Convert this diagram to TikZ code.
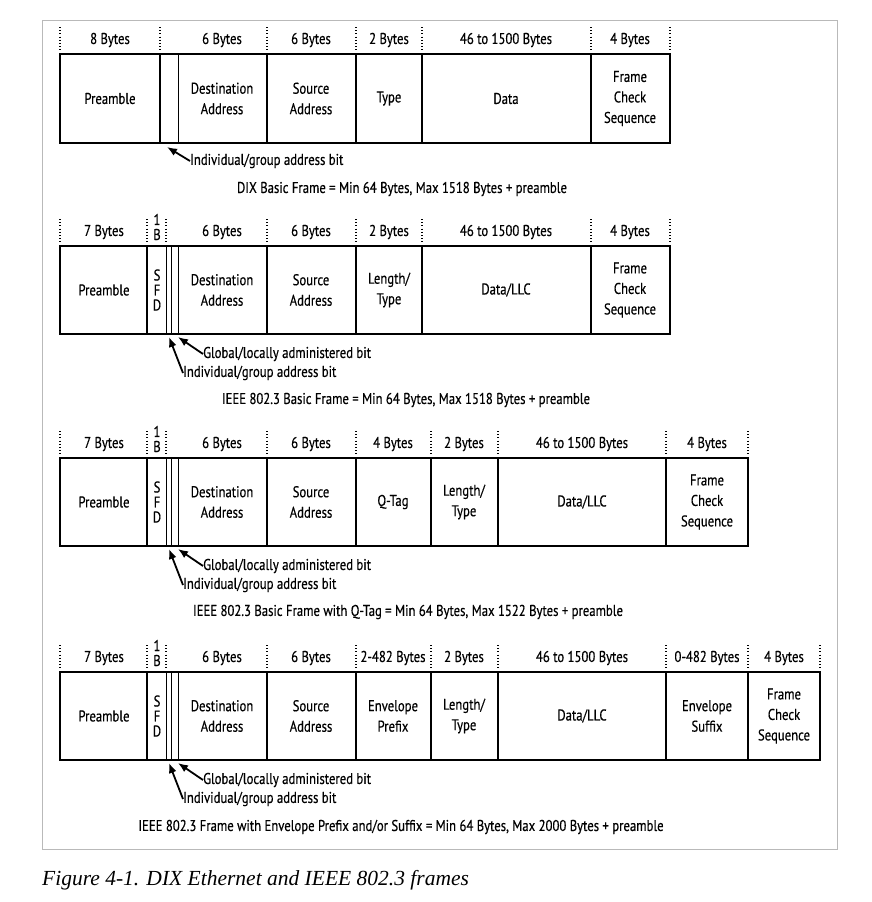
\documentclass[tikz,border=0pt]{standalone}
\usepackage{fontspec}
\setmainfont{Liberation Serif}
\newfontfamily\cond[FakeStretch=0.815, FakeBold=0.4]{PT Sans}
\usetikzlibrary{arrows.meta}
\tikzset{
	field/.style={line width=1.6pt},
	bitline/.style={line width=0.6pt},
	sizesep/.style={line width=1.1pt, dash pattern=on 1pt off 2.2pt},
	lbl/.style={font=\cond\fontsize{15.6}{20.5}\selectfont, align=center, inner sep=0pt},
	stack/.style={lbl, font=\cond\fontsize{15.6}{15}\selectfont},
	bitnote/.style={lbl, anchor=west},
	bitarrow/.style={-{Latex[length=10pt,width=8pt]}, line width=1.8pt}
}

\begin{document}
\begin{tikzpicture}[x=1pt, y=-1pt]
        \useasboundingbox (0,0) rectangle (871,902);
        \draw [gray!55, line width=0.8pt] (42,20) rectangle (837,849);

        % DIX frame
        \draw [field] (60,54) rectangle (670,143);
        \foreach \x in {160,267,356,422,591} \draw [field] (\x,54) -- (\x,143);
        \draw [bitline] (178,54) -- (178,143);
        \foreach \x in {60,160,267,356,422,591,670} \draw [sizesep] (\x,27) -- (\x,52);
        \foreach \x/\t [count=\i] in {110/8 Bytes, 222/6 Bytes, 311/6 Bytes, 389/2 Bytes, 506/46 to 1500 Bytes, 630/4 Bytes}
            \node [lbl] (dixsz\i) at (\x,40) {\t};
        \foreach \x/\t [count=\i] in {110/Preamble, 222/{Destination\\Address}, 311/{Source\\Address}, 389/Type, 506/Data, 630/{Frame\\Check\\Sequence}}
            \node [lbl] (dixf\i) at (\x,98.5) {\t};
        \node [bitnote] (dixig) at (190,161) {Individual/group address bit};
        \coordinate (dixigbit) at (167,147);
        \draw [bitarrow] (dixig.west) -- (dixigbit);
        \node [lbl] (dixcap) at (402,189) {DIX Basic Frame = Min 64 Bytes, Max 1518 Bytes + preamble};

        % IEEE 802.3 basic frame
        \draw [field] (60,246) rectangle (670,334);
        \foreach \x in {147,267,356,422,591} \draw [field] (\x,246) -- (\x,334);
        \foreach \x in {166,171,178} \draw [bitline] (\x,246) -- (\x,334);
        \foreach \x in {60,147,166,267,356,422,591,670} \draw [sizesep] (\x,219) -- (\x,244);
        \foreach \x/\t [count=\i] in {104/7 Bytes, 222/6 Bytes, 311/6 Bytes, 389/2 Bytes, 506/46 to 1500 Bytes, 630/4 Bytes}
            \node [lbl] (basz\i) at (\x,232) {\t};
        \node [stack] (baone) at (157,227) {1\\B};
        \foreach \x/\t [count=\i] in {104/Preamble, 222/{Destination\\Address}, 311/{Source\\Address}, 389/{Length/\\Type}, 506/{Data/LLC}, 630/{Frame\\Check\\Sequence}}
            \node [lbl] (baf\i) at (\x,290) {\t};
        \node [stack] (basfd) at (157,290) {S\\F\\D};
        \node [bitnote] (bagl) at (203,354) {Global/locally administered bit};
        \node [bitnote] (baig) at (183,373) {Individual/group address bit};
        \coordinate (baglbit) at (178,337);
        \coordinate (baigbit) at (169,337);
        \draw [bitarrow] (bagl.west) -- (baglbit);
        \draw [bitarrow] (baig.west) -- (baigbit);
        \node [lbl] (bacap) at (406,400) {IEEE 802.3 Basic Frame = Min 64 Bytes, Max 1518 Bytes + preamble};

        % IEEE 802.3 frame with Q-Tag
        \draw [field] (60,458) rectangle (748,546);
        \foreach \x in {147,267,356,431,498,666} \draw [field] (\x,458) -- (\x,546);
        \foreach \x in {166,171,178} \draw [bitline] (\x,458) -- (\x,546);
        \foreach \x in {60,147,166,267,356,431,498,666,748} \draw [sizesep] (\x,431) -- (\x,456);
        \foreach \x/\t [count=\i] in {104/7 Bytes, 222/6 Bytes, 311/6 Bytes, 393/4 Bytes, 464/2 Bytes, 582/46 to 1500 Bytes, 707/4 Bytes}
            \node [lbl] (qsz\i) at (\x,444) {\t};
        \node [stack] (qone) at (157,439) {1\\B};
        \foreach \x/\t [count=\i] in {104/Preamble, 222/{Destination\\Address}, 311/{Source\\Address}, 393/Q-Tag, 464/{Length/\\Type}, 582/{Data/LLC}, 707/{Frame\\Check\\Sequence}}
            \node [lbl] (qf\i) at (\x,502) {\t};
        \node [stack] (qsfd) at (157,502) {S\\F\\D};
        \node [bitnote] (qgl) at (203,566) {Global/locally administered bit};
        \node [bitnote] (qig) at (183,585) {Individual/group address bit};
        \coordinate (qglbit) at (178,549);
        \coordinate (qigbit) at (169,549);
        \draw [bitarrow] (qgl.west) -- (qglbit);
        \draw [bitarrow] (qig.west) -- (qigbit);
        \node [lbl] (qcap) at (408,612) {IEEE 802.3 Basic Frame with Q-Tag = Min 64 Bytes, Max 1522 Bytes + preamble};

        % IEEE 802.3 frame with envelope
        \draw [field] (60,672) rectangle (820,760);
        \foreach \x in {147,267,356,431,498,666,748} \draw [field] (\x,672) -- (\x,760);
        \foreach \x in {166,171,178} \draw [bitline] (\x,672) -- (\x,760);
        \foreach \x in {60,147,166,267,356,431,498,666,748,820} \draw [sizesep] (\x,645) -- (\x,670);
        \foreach \x/\t [count=\i] in {104/7 Bytes, 222/6 Bytes, 311/6 Bytes, 393/2-482 Bytes, 464/2 Bytes, 582/46 to 1500 Bytes, 707/0-482 Bytes, 784/4 Bytes}
            \node [lbl] (evsz\i) at (\x,658) {\t};
        \node [stack] (evone) at (157,653) {1\\B};
        \foreach \x/\t [count=\i] in {104/Preamble, 222/{Destination\\Address}, 311/{Source\\Address}, 393/{Envelope\\Prefix}, 464/{Length/\\Type}, 582/{Data/LLC}, 707/{Envelope\\Suffix}, 784/{Frame\\Check\\Sequence}}
            \node [lbl] (evf\i) at (\x,716) {\t};
        \node [stack] (evsfd) at (157,716) {S\\F\\D};
        \node [bitnote] (evgl) at (203,780) {Global/locally administered bit};
        \node [bitnote] (evig) at (183,799) {Individual/group address bit};
        \coordinate (evglbit) at (178,763);
        \coordinate (evigbit) at (169,763);
        \draw [bitarrow] (evgl.west) -- (evglbit);
        \draw [bitarrow] (evig.west) -- (evigbit);
        \node [lbl] (evcap) at (401,827) {IEEE 802.3 Frame with Envelope Prefix and/or Suffix = Min 64 Bytes, Max 2000 Bytes + preamble};

        \node [anchor=base west, inner sep=0pt, font=\itshape\fontsize{21.5}{25}\selectfont] (figcap) at (42,885) {Figure 4-1. DIX Ethernet and IEEE 802.3 frames};
    \end{tikzpicture}
\end{document}
